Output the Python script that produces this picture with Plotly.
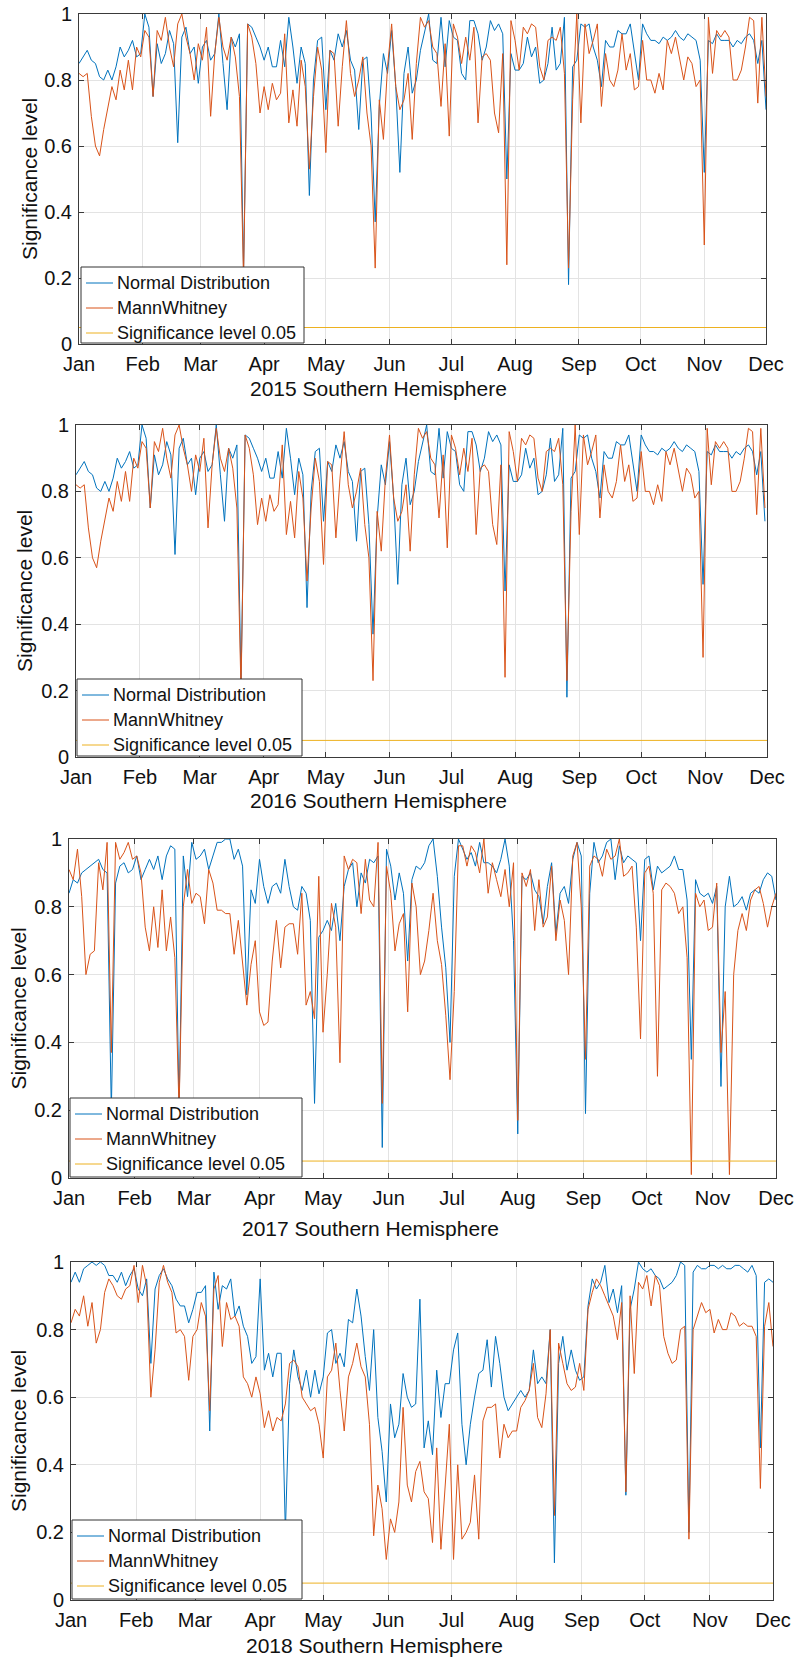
import datetime as dt
import plotly.graph_objects as go

W, H = 802, 1659
FONT = "Liberation Sans, Arial, Helvetica, sans-serif"
BLUE = "#0072BD"
ORANGE = "#D95319"
YELLOW = "#EDB120"
AXIS = "#3a3a3a"
GRID = "#e3e3e3"

years = [2015, 2016, 2017, 2018]
month_labels = ["Jan", "Feb", "Mar", "Apr", "May", "Jun",
                "Jul", "Aug", "Sep", "Oct", "Nov", "Dec"]
y_ticks = [0, 0.2, 0.4, 0.6, 0.8, 1]
sig_level = 0.05
day_step = 2  # values every second day, from 1 Jan
series_names = ["Normal Distribution", "MannWhitney", "Significance level 0.05"]
series_colors = [BLUE, ORANGE, YELLOW]

nd_2015 = [
    0.85, 0.87, 0.89, 0.86, 0.85, 0.81, 0.80, 0.83, 0.80, 0.84,
    0.90, 0.87, 0.89, 0.92, 0.87, 0.88, 1.00, 0.96, 0.75, 0.91,
    0.85, 0.88, 0.95, 0.91, 0.61, 0.93, 0.96, 0.88, 0.90, 0.79,
    0.90, 0.92, 0.86, 0.88, 1.00, 0.85, 0.71, 0.93, 0.90, 0.94,
    0.22, 0.97, 0.96, 0.93, 0.90, 0.86, 0.90, 0.84, 0.84, 0.92,
    0.84, 0.99, 0.90, 0.79, 0.90, 0.85, 0.45, 0.80, 0.92, 0.93,
    0.71, 0.89, 0.86, 0.94, 0.90, 0.95, 0.86, 0.83, 0.65, 0.86,
    0.87, 0.70, 0.37, 0.72, 0.88, 0.82, 0.95, 0.78, 0.52, 0.82,
    0.90, 0.76, 0.80, 0.89, 0.95, 1.00, 0.86, 0.85, 0.99, 0.84,
    0.98, 0.93, 0.92, 0.82, 0.80, 0.98, 0.98, 0.94, 0.86, 0.90,
    0.98, 0.95, 0.97, 0.94, 0.50, 0.88, 0.83, 0.83, 0.85, 0.93,
    0.87, 0.90, 0.79, 0.80, 0.85, 0.96, 0.83, 0.85, 0.99, 0.18,
    0.84, 0.86, 0.97, 0.96, 0.97, 0.90, 0.86, 0.78, 0.92, 0.90,
    0.90, 0.95, 0.94, 0.94, 0.97, 0.88, 0.80, 0.97, 0.94, 0.92,
    0.92, 0.91, 0.93, 0.92, 0.93, 0.95, 0.93, 0.92, 0.94, 0.93,
    0.92, 0.86, 0.52, 0.92, 0.91, 0.94, 0.92, 0.92, 0.92, 0.90,
    0.92, 0.91, 0.93, 0.94, 0.92, 0.85, 0.92, 0.71,
]
mw_2015 = [
    0.82, 0.81, 0.82, 0.69, 0.60, 0.57, 0.65, 0.72, 0.78, 0.74,
    0.83, 0.77, 0.86, 0.77, 0.90, 0.87, 0.95, 0.93, 0.75, 0.95,
    0.92, 0.99, 0.90, 0.84, 0.97, 1.00, 0.93, 0.88, 0.80, 0.91,
    0.86, 0.96, 0.69, 0.88, 0.99, 0.90, 0.86, 0.93, 0.87, 0.75,
    0.20, 0.97, 0.93, 0.85, 0.70, 0.78, 0.71, 0.79, 0.74, 0.76,
    0.94, 0.67, 0.77, 0.66, 0.86, 0.78, 0.53, 0.75, 0.90, 0.83,
    0.58, 0.89, 0.88, 0.66, 0.84, 0.98, 0.82, 0.75, 0.80, 0.87,
    0.70, 0.60, 0.23, 0.74, 0.62, 0.84, 0.97, 0.78, 0.71, 0.74,
    0.82, 0.62, 0.85, 0.99, 0.96, 0.98, 0.90, 0.88, 0.72, 0.91,
    0.63, 0.97, 0.93, 0.85, 0.93, 0.86, 0.96, 0.67, 0.87, 0.88,
    0.86, 0.70, 0.64, 0.88, 0.24, 0.98, 0.92, 0.83, 0.96, 0.94,
    0.97, 0.96, 0.84, 0.80, 0.92, 0.93, 0.92, 0.96, 0.82, 0.23,
    0.74, 1.00, 0.67, 0.97, 0.88, 0.92, 0.97, 0.72, 0.88, 0.80,
    0.78, 0.83, 0.94, 0.83, 0.88, 0.77, 0.78, 0.92, 0.80, 0.80,
    0.76, 0.82, 0.77, 0.92, 0.88, 0.93, 0.86, 0.80, 0.87, 0.85,
    0.78, 0.80, 0.30, 0.99, 0.82, 0.95, 0.93, 0.95, 0.93, 0.80,
    0.80, 0.83, 0.90, 0.99, 0.98, 0.73, 0.99, 0.75,
]
# the 2016 panel shows exactly the same curves as the 2015 panel
nd_2016 = list(nd_2015)
mw_2016 = list(mw_2015)
nd_2017 = [
    0.84, 0.88, 0.87, 0.90, 0.91, 0.92, 0.93, 0.94, 0.91, 0.90,
    0.20, 0.87, 0.92, 0.93, 0.90, 0.91, 0.95, 0.88, 0.91, 0.94,
    0.91, 0.95, 0.88, 0.95, 0.98, 0.97, 0.20, 0.95, 0.83, 0.99,
    0.94, 0.95, 0.97, 0.91, 0.95, 0.99, 0.99, 1.00, 1.00, 0.94,
    0.97, 0.92, 0.54, 0.85, 0.81, 0.94, 0.86, 0.81, 0.86, 0.87,
    0.84, 0.94, 0.86, 0.80, 0.79, 0.86, 0.84, 0.76, 0.22, 0.71,
    0.73, 0.76, 0.73, 0.81, 0.70, 0.86, 0.91, 0.93, 0.80, 0.90,
    0.87, 0.94, 0.93, 0.95, 0.09, 0.97, 0.92, 0.82, 0.90, 0.84,
    0.64, 0.88, 0.92, 0.91, 0.93, 0.98, 1.00, 0.89, 0.74, 0.62,
    0.40, 0.89, 1.00, 0.97, 0.94, 0.96, 0.92, 0.99, 0.93, 0.93,
    0.92, 0.90, 0.94, 1.00, 0.92, 0.70, 0.13, 0.89, 0.88, 0.90,
    0.85, 0.83, 0.75, 0.86, 0.93, 0.72, 0.84, 0.86, 0.81, 0.94,
    0.99, 0.95, 0.19, 0.84, 0.99, 0.93, 0.95, 0.99, 1.00, 0.88,
    0.98, 0.93, 0.95, 0.94, 0.93, 0.70, 0.94, 0.95, 0.85, 0.92,
    0.90, 0.91, 0.92, 0.95, 0.91, 0.91, 0.82, 0.35, 0.88, 0.84,
    0.83, 0.84, 0.81, 0.86, 0.27, 0.80, 0.89, 0.80, 0.81, 0.83,
    0.79, 0.84, 0.85, 0.84, 0.88, 0.90, 0.89, 0.82,
]
mw_2017 = [
    0.91, 0.88, 0.97, 0.83, 0.60, 0.66, 0.67, 0.93, 0.85, 0.99,
    0.37, 0.99, 0.94, 0.96, 0.99, 0.94, 0.95, 0.90, 0.74, 0.67,
    0.80, 0.68, 0.85, 0.67, 0.77, 0.65, 0.20, 0.80, 0.91, 0.81,
    0.84, 0.83, 0.75, 0.91, 0.87, 0.79, 0.79, 0.78, 0.78, 0.66,
    0.76, 0.64, 0.51, 0.63, 0.70, 0.49, 0.45, 0.46, 0.64, 0.76,
    0.62, 0.74, 0.75, 0.75, 0.66, 0.84, 0.51, 0.55, 0.47, 0.89,
    0.43, 0.60, 0.81, 0.74, 0.34, 0.95, 0.91, 0.94, 0.93, 0.78,
    0.94, 0.82, 0.80, 0.99, 0.22, 0.92, 0.84, 0.67, 0.75, 0.78,
    0.49, 0.87, 0.80, 0.60, 0.64, 0.73, 0.84, 0.70, 0.63, 0.48,
    0.29, 0.55, 0.98, 0.98, 0.92, 0.98, 0.96, 0.90, 1.00, 0.84,
    0.93, 0.88, 0.83, 0.91, 0.80, 0.93, 0.17, 0.90, 0.86, 0.91,
    0.73, 0.88, 0.74, 0.77, 0.92, 0.70, 0.82, 0.76, 0.60, 0.95,
    0.99, 0.80, 0.35, 0.92, 0.95, 0.94, 0.89, 0.97, 0.94, 0.95,
    1.00, 0.89, 0.90, 0.92, 0.74, 0.41, 0.90, 0.92, 0.84, 0.30,
    0.85, 0.87, 0.86, 0.84, 0.78, 0.80, 0.65, 0.01, 0.84, 0.80,
    0.82, 0.73, 0.74, 0.87, 0.37, 0.55, 0.01, 0.60, 0.73, 0.78,
    0.73, 0.82, 0.85, 0.86, 0.81, 0.74, 0.80, 0.84,
]
nd_2018 = [
    0.94, 0.97, 0.94, 0.98, 0.99, 1.00, 0.99, 1.00, 0.99, 0.96,
    0.96, 0.94, 0.97, 0.93, 0.96, 0.98, 0.92, 0.90, 0.95, 0.70,
    0.92, 0.96, 0.98, 0.95, 0.93, 0.89, 0.87, 0.87, 0.82, 0.86,
    0.91, 0.91, 0.93, 0.50, 0.97, 0.86, 0.93, 0.92, 0.95, 0.84,
    0.87, 0.81, 0.78, 0.70, 0.72, 0.95, 0.68, 0.73, 0.66, 0.73,
    0.73, 0.20, 0.64, 0.74, 0.66, 0.62, 0.68, 0.60, 0.68, 0.61,
    0.66, 0.79, 0.80, 0.70, 0.73, 0.69, 0.83, 0.82, 0.92, 0.84,
    0.72, 0.62, 0.80, 0.54, 0.44, 0.29, 0.58, 0.48, 0.52, 0.67,
    0.60, 0.57, 0.58, 0.89, 0.45, 0.53, 0.43, 0.68, 0.54, 0.64,
    0.64, 0.74, 0.79, 0.52, 0.40, 0.52, 0.60, 0.67, 0.68, 0.77,
    0.63, 0.78, 0.70, 0.60, 0.56, 0.58, 0.60, 0.62, 0.60, 0.62,
    0.74, 0.64, 0.66, 0.64, 0.80, 0.11, 0.70, 0.78, 0.68, 0.74,
    0.68, 0.65, 0.66, 0.87, 0.95, 0.92, 0.94, 0.99, 0.88, 0.92,
    0.85, 0.93, 0.31, 0.86, 0.92, 1.00, 0.98, 0.97, 0.98, 0.96,
    0.95, 0.92, 0.93, 0.94, 0.96, 1.00, 0.99, 0.20, 0.97, 0.99,
    0.98, 0.98, 0.99, 0.99, 0.98, 0.99, 0.98, 0.98, 0.99, 0.99,
    0.98, 0.97, 0.99, 0.96, 0.45, 0.94, 0.95, 0.94,
]
mw_2018 = [
    0.82, 0.86, 0.84, 0.90, 0.81, 0.88, 0.76, 0.80, 0.91, 0.95,
    0.93, 0.90, 0.89, 0.92, 0.93, 0.99, 0.88, 0.99, 0.93, 0.60,
    0.74, 0.94, 0.99, 0.94, 0.91, 0.79, 0.80, 0.78, 0.65, 0.78,
    0.80, 0.88, 0.84, 0.56, 0.92, 0.96, 0.75, 0.88, 0.83, 0.84,
    0.81, 0.66, 0.64, 0.60, 0.66, 0.61, 0.51, 0.56, 0.50, 0.54,
    0.53, 0.58, 0.70, 0.71, 0.69, 0.60, 0.58, 0.56, 0.57, 0.52,
    0.42, 0.66, 0.68, 0.76, 0.62, 0.50, 0.66, 0.70, 0.76, 0.69,
    0.66, 0.52, 0.19, 0.34, 0.27, 0.12, 0.24, 0.20, 0.29, 0.57,
    0.34, 0.29, 0.38, 0.41, 0.32, 0.30, 0.17, 0.45, 0.15, 0.34,
    0.52, 0.12, 0.40, 0.18, 0.20, 0.23, 0.37, 0.18, 0.53, 0.57,
    0.57, 0.58, 0.42, 0.52, 0.48, 0.50, 0.50, 0.57, 0.59, 0.62,
    0.70, 0.54, 0.51, 0.61, 0.80, 0.25, 0.76, 0.70, 0.64, 0.62,
    0.63, 0.70, 0.62, 0.86, 0.91, 0.95, 0.93, 0.90, 0.87, 0.84,
    0.77, 0.88, 0.32, 0.90, 0.67, 0.94, 0.92, 0.96, 0.87, 0.96,
    0.93, 0.78, 0.73, 0.70, 0.71, 0.80, 0.81, 0.18, 0.80, 0.84,
    0.88, 0.85, 0.86, 0.79, 0.83, 0.80, 0.80, 0.85, 0.84, 0.81,
    0.82, 0.81, 0.81, 0.78, 0.33, 0.81, 0.88, 0.75,
]

nd_series = [nd_2015, nd_2016, nd_2017, nd_2018]
mw_series = [mw_2015, mw_2016, mw_2017, mw_2018]

# pixel layout of each panel: axes box (left, right, top, bottom),
# legend box (left, top, right), y-title centre x, x-title centre (x, y)
panels = [
    dict(box=(79, 766, 14, 344), leg=(81, 267, 304), ytx=30, xt=(378, 389)),
    dict(box=(76, 767, 425, 757), leg=(77, 679, 302), ytx=25, xt=(378, 801)),
    dict(box=(69, 776, 839, 1178), leg=(70, 1098, 302), ytx=18, xt=(370, 1228)),
    dict(box=(71, 773, 1262, 1600), leg=(72, 1520, 302), ytx=18, xt=(374, 1645)),
]
legend_row_offsets = [16, 41, 66]


def px_x(p):
    return p / W


def px_y(p):
    return 1 - p / H


fig = go.Figure()
annotations = []
shapes = []
layout = dict(
    template="none",
    width=W, height=H,
    margin=dict(l=0, r=0, t=0, b=0, autoexpand=False),
    paper_bgcolor="white", plot_bgcolor="white",
    font=dict(family=FONT, color="#1a1a1a"),
    showlegend=False,
)

for i, (year, nd, mw, pan) in enumerate(zip(years, nd_series, mw_series, panels)):
    k = "" if i == 0 else str(i + 1)
    xref, yref = "x" + k, "y" + k
    dates = [dt.date(year, 1, 1) + dt.timedelta(days=day_step * j) for j in range(len(nd))]
    x_start = dt.date(year, 1, 1)
    x_end = dt.date(year, 12, 1)

    fig.add_trace(go.Scatter(x=dates, y=nd, mode="lines", name=series_names[0],
                             line=dict(color=BLUE, width=1), xaxis=xref, yaxis=yref))
    fig.add_trace(go.Scatter(x=dates, y=mw, mode="lines", name=series_names[1],
                             line=dict(color=ORANGE, width=1), xaxis=xref, yaxis=yref))
    fig.add_trace(go.Scatter(x=[x_start, x_end], y=[sig_level, sig_level], mode="lines",
                             name=series_names[2],
                             line=dict(color=YELLOW, width=1), xaxis=xref, yaxis=yref))

    l, r, t, b = pan["box"]
    tickvals = [dt.date(year, m, 1) for m in range(1, 13)]
    layout["xaxis" + k] = dict(
        domain=[px_x(l), px_x(r)], anchor=yref, type="date", automargin=False,
        range=[x_start, x_end], tickmode="array", tickvals=tickvals,
        ticktext=month_labels, ticks="inside", ticklen=5, tickcolor=AXIS,
        showline=True, linecolor=AXIS, linewidth=1, mirror="ticks",
        showgrid=True, gridcolor=GRID, gridwidth=1, zeroline=False,
        tickfont=dict(size=20, color="#111"), ticklabelstandoff=2,
    )
    layout["yaxis" + k] = dict(
        domain=[px_y(b), px_y(t)], anchor=xref, range=[0, 1], automargin=False,
        tickmode="array", tickvals=y_ticks, ticktext=["0", "0.2", "0.4", "0.6", "0.8", "1"],
        ticks="inside", ticklen=5, tickcolor=AXIS,
        showline=True, linecolor=AXIS, linewidth=1, mirror="ticks",
        showgrid=True, gridcolor=GRID, gridwidth=1, zeroline=False,
        tickfont=dict(size=20, color="#111"), ticklabelstandoff=2,
    )

    # legend box drawn over the data, as in the original figure
    ll, lt, lr = pan["leg"]
    shapes.append(dict(type="rect", xref="paper", yref="paper", layer="above",
                       x0=px_x(ll), x1=px_x(lr), y0=px_y(b - 1), y1=px_y(lt),
                       fillcolor="white", line=dict(color="#333", width=1)))
    for name, color, off in zip(series_names, series_colors, legend_row_offsets):
        yy = px_y(lt + off)
        shapes.append(dict(type="line", xref="paper", yref="paper", layer="above",
                           x0=px_x(ll + 5), x1=px_x(ll + 32), y0=yy, y1=yy,
                           line=dict(color=color, width=1)))
        annotations.append(dict(
            text=name, showarrow=False, xref="paper", yref="paper",
            x=px_x(ll + 34), y=yy, xanchor="left", yanchor="middle",
            font=dict(size=18, color="#111"),
        ))

    annotations.append(dict(
        text="Significance level", textangle=-90, showarrow=False,
        xref="paper", yref="paper", x=px_x(pan["ytx"]), y=px_y((t + b) / 2),
        xanchor="center", yanchor="middle", font=dict(size=21, color="#111"),
    ))
    annotations.append(dict(
        text=f"{year} Southern Hemisphere", showarrow=False,
        xref="paper", yref="paper", x=px_x(pan["xt"][0]), y=px_y(pan["xt"][1]),
        xanchor="center", yanchor="middle", font=dict(size=21, color="#111"),
    ))

layout["annotations"] = annotations
layout["shapes"] = shapes
fig.update_layout(**layout)
# the page's default 8px body margin would shift the fixed-size figure; remove it
fig.write_html(
    "out.html",
    config={"displayModeBar": False, "staticPlot": True},
    post_script="document.body.style.margin='0px';document.body.style.overflow='hidden';",
)
